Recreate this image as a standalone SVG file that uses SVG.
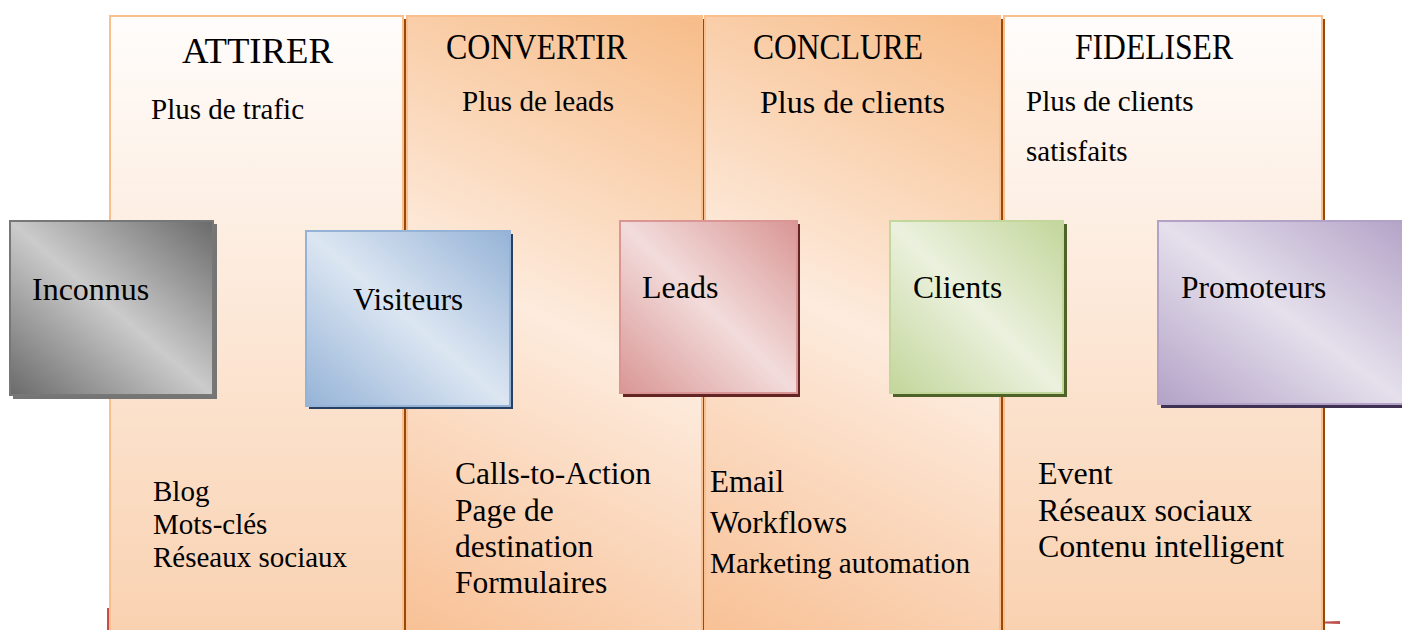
<svg xmlns="http://www.w3.org/2000/svg" width="1402" height="630" viewBox="0 0 1402 630">
  <defs>
    <!-- stage columns: vertical fade (outer) and diagonal band (inner) -->
    <linearGradient id="colFade" x1="0" y1="0" x2="0" y2="1">
      <stop offset="0" stop-color="#fffdfc"/>
      <stop offset="1" stop-color="#f9d1b0"/>
    </linearGradient>
    <linearGradient id="colBand2" gradientUnits="userSpaceOnUse" x1="703" y1="15" x2="407" y2="630">
      <stop offset="0" stop-color="#f7bc88"/>
      <stop offset="0.5" stop-color="#fdebdd"/>
      <stop offset="1" stop-color="#f8c196"/>
    </linearGradient>
    <linearGradient id="colBand3" gradientUnits="userSpaceOnUse" x1="1001" y1="15" x2="705" y2="630">
      <stop offset="0" stop-color="#f7bc88"/>
      <stop offset="0.5" stop-color="#fdebdd"/>
      <stop offset="1" stop-color="#f8c196"/>
    </linearGradient>
    <!-- stage boxes: dark / light / dark diagonal sheen -->
    <linearGradient id="gGray" x1="0" y1="1" x2="1" y2="0">
      <stop offset="0" stop-color="#6a6a6a"/>
      <stop offset="0.5" stop-color="#cbcbcb"/>
      <stop offset="1" stop-color="#6a6a6a"/>
    </linearGradient>
    <linearGradient id="gBlue" x1="0" y1="1" x2="1" y2="0">
      <stop offset="0" stop-color="#95b3d7"/>
      <stop offset="0.5" stop-color="#dce6f2"/>
      <stop offset="1" stop-color="#95b3d7"/>
    </linearGradient>
    <linearGradient id="gRed" x1="0" y1="1" x2="1" y2="0">
      <stop offset="0" stop-color="#d99694"/>
      <stop offset="0.5" stop-color="#f2dcdb"/>
      <stop offset="1" stop-color="#d99694"/>
    </linearGradient>
    <linearGradient id="gGreen" x1="0" y1="1" x2="1" y2="0">
      <stop offset="0" stop-color="#c3d69b"/>
      <stop offset="0.5" stop-color="#ebf1de"/>
      <stop offset="1" stop-color="#c3d69b"/>
    </linearGradient>
    <linearGradient id="gPurple" x1="0" y1="1" x2="1" y2="0">
      <stop offset="0" stop-color="#b3a2c7"/>
      <stop offset="0.5" stop-color="#e5e0ec"/>
      <stop offset="1" stop-color="#b3a2c7"/>
    </linearGradient>
  </defs>
  <style>
    text { font-family: "Liberation Serif", "Times New Roman", serif; fill: #000; }
    .col { stroke: #f9bf8f; stroke-width: 2; }
    .colShadow { fill: #984807; }
    .box { stroke-width: 2; }
  </style>

  <rect width="1402" height="630" fill="#ffffff"/>

  <!-- small red marks peeking out at the bottom -->
  <rect x="107" y="608" width="2" height="22" fill="#c0504d"/>
  <polygon points="1325,621.5 1340,621 1340,624 1325,623.5" fill="#c0504d"/>

  <!-- stage columns -->
  <g id="col-attirer">
    <rect class="colShadow" x="113" y="19" width="293" height="620"/>
    <rect class="col" x="110" y="16" width="293" height="620" fill="url(#colFade)"/>
    <text x="182" y="63" font-size="36" textLength="151" lengthAdjust="spacingAndGlyphs">ATTIRER</text>
    <text x="151" y="119" font-size="29">Plus de trafic</text>
    <text x="153" y="501" font-size="29">Blog</text>
    <text x="153" y="534" font-size="29">Mots-clés</text>
    <text x="153" y="567" font-size="29">Réseaux sociaux</text>
  </g>

  <g id="col-convertir">
    <rect class="colShadow" x="410" y="19" width="295" height="620"/>
    <rect class="col" x="407" y="16" width="295" height="620" fill="url(#colBand2)"/>
    <text x="446" y="59" font-size="35" textLength="181" lengthAdjust="spacingAndGlyphs">CONVERTIR</text>
    <text x="462" y="111" font-size="29" textLength="152" lengthAdjust="spacingAndGlyphs">Plus de leads</text>
    <text x="455" y="484" font-size="31.5">Calls-to-Action</text>
    <text x="455" y="521" font-size="31.5">Page de</text>
    <text x="455" y="557" font-size="31.5">destination</text>
    <text x="455" y="593" font-size="31.5">Formulaires</text>
  </g>

  <g id="col-conclure">
    <rect class="colShadow" x="708" y="19" width="295" height="620"/>
    <rect class="col" x="705" y="16" width="295" height="620" fill="url(#colBand3)"/>
    <text x="753" y="59" font-size="35" textLength="170" lengthAdjust="spacingAndGlyphs">CONCLURE</text>
    <text x="760" y="113" font-size="32">Plus de clients</text>
    <text x="710" y="492" font-size="31">Email</text>
    <text x="710" y="533" font-size="31">Workflows</text>
    <text x="710" y="573" font-size="28.8" textLength="260" lengthAdjust="spacingAndGlyphs">Marketing automation</text>
  </g>

  <g id="col-fideliser">
    <rect class="colShadow" x="1007" y="19" width="318" height="620"/>
    <rect class="col" x="1004" y="16" width="318" height="620" fill="url(#colFade)"/>
    <text x="1075" y="59" font-size="35" textLength="158" lengthAdjust="spacingAndGlyphs">FIDELISER</text>
    <text x="1026" y="111" font-size="29">Plus de clients</text>
    <text x="1026" y="161" font-size="29">satisfaits</text>
    <text x="1038" y="484" font-size="32">Event</text>
    <text x="1038" y="521" font-size="32">Réseaux sociaux</text>
    <text x="1038" y="557" font-size="32">Contenu intelligent</text>
  </g>

  <!-- stage boxes -->
  <g id="node-inconnus">
    <rect x="13" y="224" width="204" height="175" fill="#757575"/>
    <rect class="box" x="10" y="221" width="203" height="174" fill="url(#gGray)" stroke="#777777"/>
    <text x="32" y="300" font-size="32">Inconnus</text>
  </g>

  <g id="node-visiteurs">
    <rect x="309" y="234" width="204" height="175" fill="#254061"/>
    <rect class="box" x="306" y="231" width="204" height="175" fill="url(#gBlue)" stroke="#95b3d7"/>
    <text x="353" y="310" font-size="31">Visiteurs</text>
  </g>

  <g id="node-leads">
    <rect x="623" y="224" width="177" height="173" fill="#632523"/>
    <rect class="box" x="620" y="221" width="177" height="172" fill="url(#gRed)" stroke="#d99694"/>
    <text x="642" y="298" font-size="32">Leads</text>
  </g>

  <g id="node-clients">
    <rect x="893" y="224" width="174" height="173" fill="#4f6228"/>
    <rect class="box" x="890" y="221" width="173" height="172" fill="url(#gGreen)" stroke="#c3d69b"/>
    <text x="913" y="298" font-size="31.5">Clients</text>
  </g>

  <g id="node-promoteurs">
    <rect x="1161" y="224" width="250" height="184" fill="#3f3151"/>
    <rect class="box" x="1158" y="221" width="250" height="183" fill="url(#gPurple)" stroke="#b3a2c7"/>
    <text x="1181" y="298" font-size="31.5">Promoteurs</text>
  </g>

  <!-- no connectors are drawn between the stages -->
  <g id="connectors"/>
</svg>
